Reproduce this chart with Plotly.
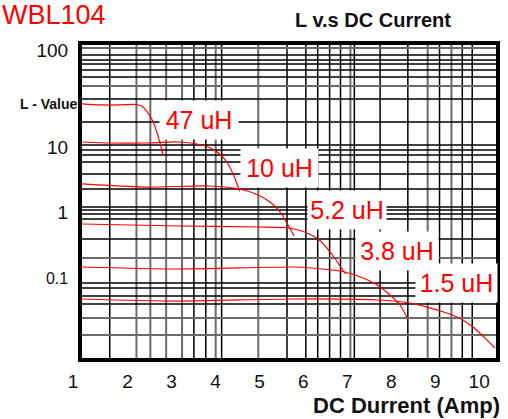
import plotly.graph_objects as go

# ---- data ----
x_47 = [0.963, 1.37, 1.82, 2.16, 2.32, 2.45, 2.56, 2.65, 2.72, 2.77, 2.81]
L_47 = [45.9, 44.3, 44.3, 45.1, 42.7, 34.5, 26.0, 18.3, 12.8, 9.65, 7.27]

x_10 = [0.963, 1.62, 2.38, 3.13, 3.58, 3.89, 4.12, 4.30, 4.43, 4.55]
L_10 = [11.94, 11.52, 11.52, 11.94, 11.12, 9.65, 7.53, 5.29, 3.46, 2.10]

x_52 = [0.963, 2.38, 3.87, 4.55, 4.97, 5.27, 5.49, 5.65, 5.79]
L_52 = [2.70, 2.42, 2.51, 2.26, 1.83, 1.375, 0.965, 0.631, 0.427]

x_38 = [0.963, 3.17, 4.97, 5.65, 6.03, 6.39, 6.66, 6.85, 6.96]
L_38 = [0.654, 0.609, 0.588, 0.567, 0.492, 0.358, 0.218, 0.1425, 0.1112]

x_15 = [0.963, 3.13, 5.76, 6.17, 6.94, 7.30, 7.68, 7.97, 8.20, 8.35]
L_15 = [0.1425, 0.1328, 0.1425, 0.1375, 0.1194, 0.100, 0.0753, 0.0529, 0.0371, 0.0243]

x_low = [0.963, 3.13, 5.76, 7.68, 8.42, 8.81, 9.19, 9.55, 9.86, 10.11, 10.36]
L_low = [0.0459, 0.0427, 0.0459, 0.0443, 0.0398, 0.0345, 0.0290, 0.0234, 0.0170, 0.0119, 0.00809]

x_tick_vals = [1, 2, 3, 4, 5, 6, 7, 8, 9, 10]
x_tick_text = ["1\u00a0\u00a0\u00a0\u00a0", "2", "3", "4", "5", "6", "7", "8", "9", "10"]
y_tick_vals = [310, 10, 1, 0.1]
y_tick_text = ["100", "10", "1", "<span style='font-size:16px'>0.1</span>"]

curve_labels = ["47 uH", "10 uH", "5.2 uH", "3.8 uH", "1.5 uH"]

# hand-drawn style grid of the datasheet
grid_x_black = [1.594, 3.509, 3.780, 4.140, 5.628, 6.056, 6.326, 6.597, 6.845, 7.160,
                7.746, 8.377, 9.098, 9.616, 9.842]
grid_x_gray = [2.202, 2.518, 2.878, 3.239, 4.005, 4.974, 7.070, 8.828, 9.369]
grid_y_black = [260, 218, 189, 153, 119, 54.8, 24.2, 10.7, 8.99, 7.53, 5.88, 3.84, 2.26,
                1.19, 1.07, 0.932, 0.780, 0.384, 0.0809, 0.0677, 0.0510, 0.0384]
grid_y_gray = [333, 86.8, 0.196, 0.0234, 0.0128]

RED = "#ff0000"
FONT = "Liberation Sans, Arial, sans-serif"

fig = go.Figure()
for xs, ys in [(x_47, L_47), (x_10, L_10), (x_52, L_52), (x_38, L_38), (x_15, L_15), (x_low, L_low)]:
    fig.add_trace(go.Scatter(x=xs, y=ys, mode="lines",
                             line=dict(color=RED, width=1.2, shape="spline", smoothing=0.7),
                             showlegend=False, hoverinfo="skip"))

shapes = []
for gx in grid_x_black:
    shapes.append(dict(type="line", xref="x", yref="paper", x0=gx, x1=gx, y0=0, y1=1,
                       line=dict(color="#000000", width=1.5), layer="below"))
for gx in grid_x_gray:
    shapes.append(dict(type="line", xref="x", yref="paper", x0=gx, x1=gx, y0=0, y1=1,
                       line=dict(color="#6a6a6a", width=2), layer="below"))
for gy in grid_y_black:
    shapes.append(dict(type="line", xref="paper", yref="y", x0=0, x1=1, y0=gy, y1=gy,
                       line=dict(color="#000000", width=1.5), layer="below"))
for gy in grid_y_gray:
    shapes.append(dict(type="line", xref="paper", yref="y", x0=0, x1=1, y0=gy, y1=gy,
                       line=dict(color="#6a6a6a", width=2), layer="below"))

label_pos = [(0.282, 0.760, 76), (0.478, 0.607, 75), (0.639, 0.473, 76),
             (0.761, 0.342, 80), (0.904, 0.240, 79)]
annotations = []
for txt, (ax, ay, w) in zip(curve_labels, label_pos):
    annotations.append(dict(text=txt, xref="paper", yref="paper", x=ax, y=ay,
                            xanchor="center", yanchor="middle", showarrow=False,
                            bgcolor="white", width=w, height=36, borderpad=1,
                            font=dict(family=FONT, size=25, color=RED)))

annotations.append(dict(text="WBL104", xref="paper", yref="paper", x=-0.198, y=1.096,
                        xanchor="left", yanchor="middle", showarrow=False,
                        font=dict(family=FONT, size=27, color=RED)))
annotations.append(dict(text="<b>L - Value</b>", xref="paper", yref="paper", x=-0.005, y=0.811,
                        xanchor="right", yanchor="middle", showarrow=False,
                        font=dict(family=FONT, size=14, color="#111111")))
annotations.append(dict(text="<b>DC Durrent (Amp)</b>", xref="paper", yref="paper", x=1.013, y=-0.152,
                        xanchor="right", yanchor="middle", showarrow=False, borderpad=0,
                        font=dict(family=FONT, size=22, color="#111111")))

fig.update_layout(
    width=508, height=419, autosize=False,
    margin=dict(l=82, r=8, t=45, b=61),
    plot_bgcolor="white", paper_bgcolor="white",
    title=dict(text="<b>L v.s DC Current</b>", x=373 / 508, xanchor="center",
               y=1 - 20 / 419, yanchor="middle", yref="container",
               font=dict(family=FONT, size=20, color="#111111")),
    shapes=shapes, annotations=annotations,
    xaxis=dict(range=[0.963, 10.383], tickvals=x_tick_vals, ticktext=x_tick_text,
               showgrid=False, zeroline=False, showline=True, linecolor="black",
               linewidth=4, mirror=True, ticks="", ticklabelstandoff=3,
               tickfont=dict(family=FONT, size=19, color="#111111")),
    yaxis=dict(type="log", range=[-2.246, 2.569], tickvals=y_tick_vals, ticktext=y_tick_text,
               showgrid=False, zeroline=False, showline=True, linecolor="black",
               linewidth=4, mirror=True, ticks="", ticklabelstandoff=6,
               tickfont=dict(family=FONT, size=19, color="#111111")),
)

fig.write_html("out.html", config={"displayModeBar": False},
               post_script="document.body.style.margin='0px';document.body.style.overflow='hidden';")
